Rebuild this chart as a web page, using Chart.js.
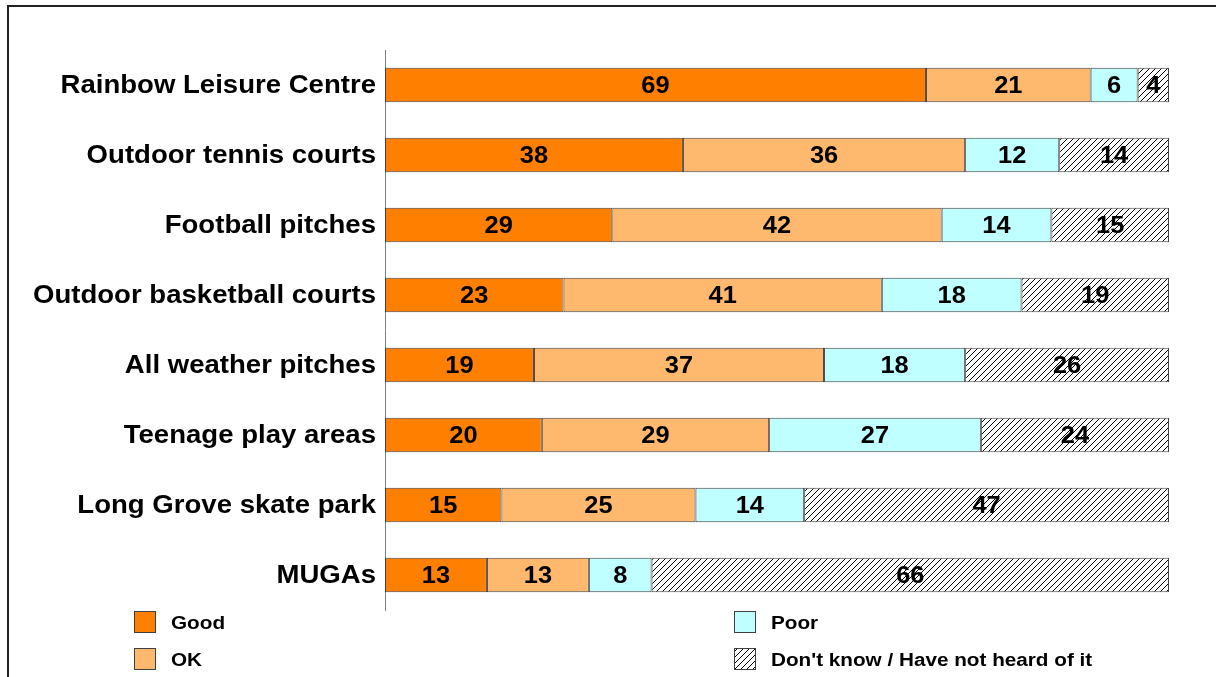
<!DOCTYPE html>
<html>
<head>
<meta charset="utf-8">
<script src="https://cdn.jsdelivr.net/npm/chart.js@4.4.1/dist/chart.umd.min.js"></script>
<style>
  html, body { margin: 0; padding: 0; background: #fff; overflow: hidden; }
  #wrap { position: relative; width: 1216px; height: 677px; }
  #frame { position: absolute; left: 7px; top: 5px; width: 1300px; height: 700px;
           border-top: 2px solid #222; border-left: 2px solid #222; pointer-events: none; }
</style>
</head>
<body>
<div id="wrap">
  <canvas id="myChart"></canvas>
  <div id="frame"></div>
</div>
<script>
'use strict';

const categories = [
  'Rainbow Leisure Centre',
  'Outdoor tennis courts',
  'Football pitches',
  'Outdoor basketball courts',
  'All weather pitches',
  'Teenage play areas',
  'Long Grove skate park',
  'MUGAs'
];
const seriesNames = ['Good', 'OK', 'Poor', "Don't know / Have not heard of it"];
const good     = [69, 38, 29, 23, 19, 20, 15, 13];
const ok       = [21, 36, 42, 41, 37, 29, 25, 13];
const poor     = [6, 12, 14, 18, 18, 27, 14, 8];
const dontKnow = [4, 14, 15, 19, 26, 24, 47, 66];

const FONT = "Arial, 'Liberation Sans', sans-serif";

// diagonal hatch for the "don't know" segments
function makeHatch() {
  const c = document.createElement('canvas');
  c.width = 6; c.height = 6;
  const g = c.getContext('2d');
  g.fillStyle = '#fff';
  g.fillRect(0, 0, 6, 6);
  g.strokeStyle = '#000';
  g.lineWidth = 1;
  g.beginPath();
  g.moveTo(0, 6); g.lineTo(6, 0);
  g.moveTo(-1, 1); g.lineTo(1, -1);
  g.moveTo(5, 7); g.lineTo(7, 5);
  g.stroke();
  return g.createPattern(c, 'repeat');
}
const hatch = makeHatch();

// each bar fills the full width (percent of its row total)
const rowTotals = categories.map((_, i) => good[i] + ok[i] + poor[i] + dontKnow[i]);
const toPct = arr => arr.map((v, i) => v / rowTotals[i] * 100);

const raw = [good, ok, poor, dontKnow];
const fills = ['#FF8000', '#FFB96E', '#C0FFFF', hatch];

const datasets = raw.map((arr, k) => ({
  label: seriesNames[k],
  data: toPct(arr),
  raw: arr,
  backgroundColor: fills[k],
  borderColor: '#404040',
  borderWidth: 1,
  borderSkipped: false,
  categoryPercentage: 1,
  barPercentage: 0.49
}));

// text a little wider than plain Arial, like the original export
function wideText(ctx, text, x, y, sx) {
  ctx.save();
  ctx.translate(x, y);
  ctx.scale(sx, 1);
  ctx.fillText(text, 0, 0);
  ctx.restore();
}

const valueLabels = {
  id: 'valueLabels',
  afterDatasetsDraw(chart) {
    const { ctx } = chart;
    ctx.save();
    ctx.font = 'bold 24px ' + FONT;
    ctx.fillStyle = '#000';
    ctx.textAlign = 'center';
    ctx.textBaseline = 'middle';
    chart.data.datasets.forEach((ds, di) => {
      const meta = chart.getDatasetMeta(di);
      meta.data.forEach((bar, i) => {
        const p = bar.getCenterPoint();
        wideText(ctx, String(ds.raw[i]), p.x, p.y + 1, 1.06);
      });
    });
    ctx.restore();
  }
};

// category names, right aligned against the axis
const categoryLabels = {
  id: 'categoryLabels',
  afterDraw(chart) {
    const { ctx } = chart;
    const yScale = chart.scales.y;
    ctx.save();
    ctx.font = 'bold 26px ' + FONT;
    ctx.fillStyle = '#000';
    ctx.textAlign = 'right';
    ctx.textBaseline = 'middle';
    chart.data.labels.forEach((lab, i) => {
      wideText(ctx, lab, chart.chartArea.left - 9, yScale.getPixelForTick(i) + 1, 1.06);
    });
    ctx.restore();
  }
};

// legend in two columns under the plot
const legendSpots = [
  { x: 134, y: 611 },
  { x: 134, y: 648 },
  { x: 734, y: 611 },
  { x: 734, y: 648 }
];
const bottomLegend = {
  id: 'bottomLegend',
  afterDraw(chart) {
    const { ctx } = chart;
    ctx.save();
    ctx.font = 'bold 18px ' + FONT;
    ctx.textBaseline = 'middle';
    chart.data.datasets.forEach((ds, i) => {
      const s = legendSpots[i];
      ctx.fillStyle = ds.backgroundColor;
      ctx.fillRect(s.x, s.y, 22, 22);
      ctx.strokeStyle = '#404040';
      ctx.lineWidth = 1;
      ctx.strokeRect(s.x + 0.5, s.y + 0.5, 21, 21);
      ctx.fillStyle = '#000';
      wideText(ctx, ds.label, s.x + 37, s.y + 13, 1.15);
    });
    ctx.restore();
  }
};

const ctx = document.getElementById('myChart').getContext('2d');

const config = {
  type: 'bar',
  data: { labels: categories, datasets: datasets },
  options: {
    indexAxis: 'y',
    responsive: true,
    maintainAspectRatio: false,
    animation: false,
    layout: { padding: { left: 0, right: 47, top: 50, bottom: 67 } },
    scales: {
      x: { stacked: true, min: 0, max: 100, display: false },
      y: {
        stacked: true,
        grid: { display: false },
        border: { display: true, color: '#808080', width: 1 },
        ticks: { display: false },
        afterFit(scale) { scale.width = 385; }
      }
    },
    plugins: {
      legend: { display: false },
      tooltip: { enabled: false }
    }
  },
  plugins: [valueLabels, categoryLabels, bottomLegend]
};

const myChart = new Chart(ctx, config);
</script>
</body>
</html>
